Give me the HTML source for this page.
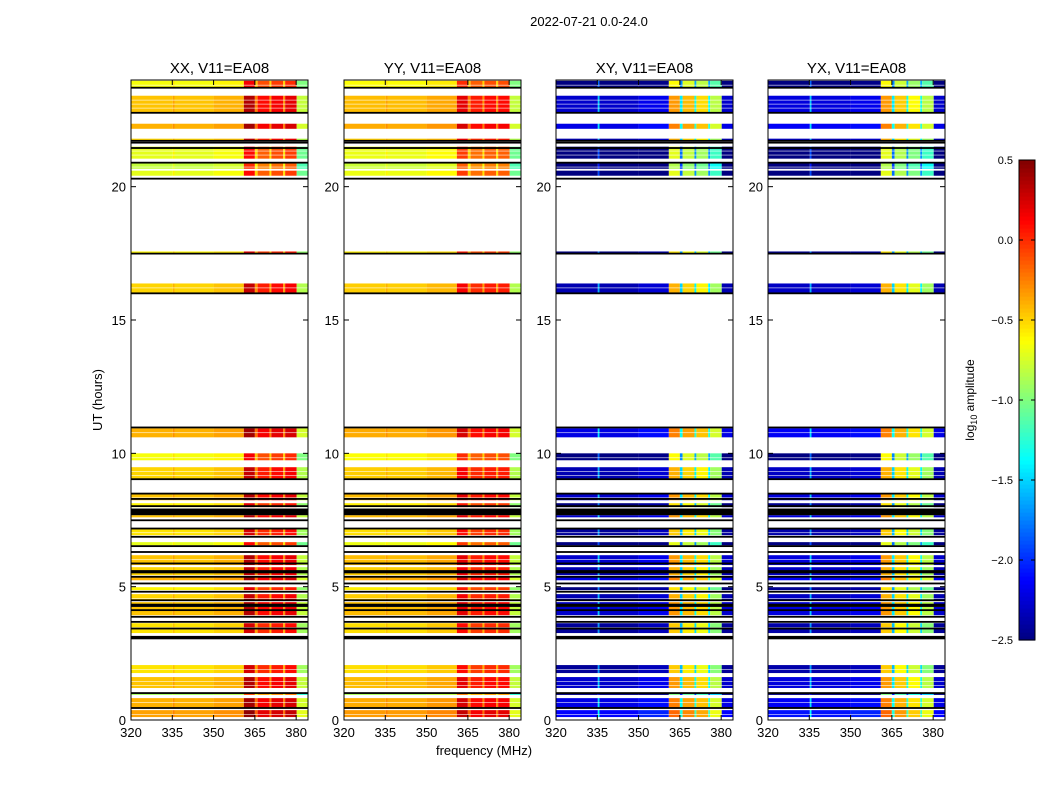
<!DOCTYPE html>
<html><head><meta charset="utf-8"><style>
body{margin:0;background:#fff;width:1050px;height:800px;overflow:hidden;font-family:"Liberation Sans","DejaVu Sans",sans-serif}
svg text{font-family:"Liberation Sans","DejaVu Sans",sans-serif}
</style></head><body>
<svg id="chart" width="1050" height="800" xmlns="http://www.w3.org/2000/svg"></svg>
<script>
const panelTitles=["XX, V11=EA08","YY, V11=EA08","XY, V11=EA08","YX, V11=EA08"];
const bandEdges=[320,335.2,335.8,350,361,365,366,370.3,371,375.3,376,380.2,384.5];
const bandXX=[-0.5,-0.4,-0.5,-0.45,0.3,-0.3,0.05,-0.35,0.1,-0.35,0.15,-0.85];
const bandYY=[-0.48,-0.4,-0.48,-0.42,0.15,-0.3,0.0,-0.35,0.05,-0.35,0.05,-0.85];
const bandXY=[-2.35,-1.6,-2.35,-2.25,-0.4,-1.5,-0.5,-1.4,-0.6,-1.4,-0.9,-2.35];
const bandYX=[-2.3,-1.6,-2.3,-2.25,-0.4,-1.5,-0.55,-1.4,-0.7,-1.4,-0.9,-2.35];
const rowStart=[23.71,22.77,22.17,21.72,21.05,20.67,20.41,17.49,16.0,10.60,9.74,9.03,8.24,7.98,7.60,6.93,6.55,5.81,5.43,5.24,4.87,4.49,3.93,3.26,1.76,1.20,0.94,0.45,0.11];
const rowEnd  =[23.97,23.41,22.36,21.80,21.50,20.90,20.60,17.57,16.37,10.94,10.0,9.48,8.50,8.13,7.68,7.19,6.67,6.18,5.73,5.36,4.98,4.72,4.42,3.63,2.06,1.61,1.01,0.82,0.37];
const rowOffset=[-0.15,0.05,0.1,0.0,-0.2,-0.3,-0.2,-0.1,0.0,0.1,-0.15,0.0,0.05,-0.1,0.05,-0.05,-0.2,0.05,0.0,0.1,-0.1,0.0,0.05,-0.05,-0.05,0.05,-0.4,0.1,0.15];
const blackLines=[23.71,22.77,21.72,21.65,21.45,20.90,20.30,17.49,16.0,10.97,9.03,8.49,8.29,8.02,7.49,7.18,6.87,6.52,6.30,5.87,5.37,5.12,4.81,4.49,4.12,3.87,3.68,3.43,3.12,3.06,1.01,0.45];
const blackBandStart=[7.68,5.50,4.24];
const blackBandEnd=[7.93,5.62,4.36];
const yTicks=[0,5,10,15,20];
const xTicks=[320,335,350,365,380];
const cbTicks=[0.5,0.0,-0.5,-1.0,-1.5,-2.0,-2.5];

const NS="http://www.w3.org/2000/svg";
const svg=document.getElementById('chart');
function mk(tag,attrs,parent){const e=document.createElementNS(NS,tag);for(const k in attrs)e.setAttribute(k,attrs[k]);(parent||svg).appendChild(e);return e;}
function jet(v){v=Math.max(0,Math.min(1,v));
 const r=Math.max(0,Math.min(1,1.5-Math.abs(4*v-3))),g=Math.max(0,Math.min(1,1.5-Math.abs(4*v-2))),b=Math.max(0,Math.min(1,1.5-Math.abs(4*v-1)));
 return `rgb(${Math.round(r*255)},${Math.round(g*255)},${Math.round(b*255)})`;}
const vmin=-2.5,vmax=0.5;
const panelX=[131,344,556,768],panelW=177,plotTop=80,bot=720;
const fmin=320,fmax=384.3,tmin=0,tmax=24;
const bands=[bandXX,bandYY,bandXY,bandYX];

let st=mk('text',{x:589,y:26,'font-size':13,'text-anchor':'middle'});


st.textContent='2022-07-21 0.0-24.0';

panelTitles.forEach((title,p)=>{
 const x0=panelX[p];
 const xs=f=>x0+(f-fmin)/(fmax-fmin)*panelW;
 const ys=h=>bot-(h-tmin)/(tmax-tmin)*(bot-plotTop);
 const g=mk('g',{});
 
 
 const vals=bands[p];
 rowStart.forEach((h0,r)=>{
  const h1=rowEnd[r];
  for(let b=0;b<vals.length;b++){
   const v=vals[b]+rowOffset[r]*(p<2?1:1.5);
   const c=mk('rect',{x:xs(bandEdges[b]),y:ys(h1),width:Math.max(0.5,xs(Math.min(bandEdges[b+1],fmax))-xs(bandEdges[b])),height:Math.max(1,ys(h0)-ys(h1)),fill:jet((v-vmin)/(vmax-vmin))},g);
   
   
  }
  for(let yy=ys(h1)+4;yy<ys(h0)-2;yy+=4){mk('rect',{x:x0,y:yy,width:panelW,height:0.8,fill:'#fff',opacity:0.7},g);}
 });
 blackLines.forEach(h=>{const l=mk('rect',{x:x0,y:ys(h)-0.9,width:panelW,height:1.8,fill:'#000'},g);
  
  });
 blackBandStart.forEach((h0,i)=>{const l=mk('rect',{x:x0,y:ys(blackBandEnd[i]),width:panelW,height:ys(h0)-ys(blackBandEnd[i]),fill:'#000'},g);
  
  });
 const fr=mk('rect',{x:x0,y:plotTop,width:panelW,height:bot-plotTop,fill:'none',stroke:'#000','stroke-width':1},g);
 
 
 const tt=mk('text',{x:x0+panelW/2,y:73,'font-size':15,'text-anchor':'middle'});
 
 
 tt.textContent=title;
 xTicks.forEach(f=>{const x=xs(f);
  mk('line',{x1:x,x2:x,y1:bot,y2:bot-5,stroke:'#000'},g);mk('line',{x1:x,x2:x,y1:plotTop,y2:plotTop+5,stroke:'#000'},g);
  const l=mk('text',{x:x,y:bot+17,'font-size':13,'text-anchor':'middle'});
  
  
  l.textContent=f;});
 yTicks.forEach(h=>{const y=ys(h);
  mk('line',{x1:x0,x2:x0+5,y1:y,y2:y,stroke:'#000'},g);mk('line',{x1:x0+panelW,x2:x0+panelW-5,y1:y,y2:y,stroke:'#000'},g);
  const l=mk('text',{x:x0-5,y:y+5,'font-size':13,'text-anchor':'end'});
  
  
  l.textContent=h;});
});
let yl=mk('text',{x:0,y:0,'font-size':13,'text-anchor':'middle',transform:'translate(102,400) rotate(-90)'});


yl.textContent='UT (hours)';
let xl=mk('text',{x:484,y:755,'font-size':13,'text-anchor':'middle'});


xl.textContent='frequency (MHz)';

const cb=mk('g',{});


const cbx=1019,cbw=16,cbt=160,cbb=640,N=120;
for(let i=0;i<N;i++){mk('rect',{x:cbx,y:cbb-(i+1)*(cbb-cbt)/N,width:cbw,height:(cbb-cbt)/N+0.6,fill:jet((i+0.5)/N)},cb);}
mk('rect',{x:cbx,y:cbt,width:cbw,height:cbb-cbt,fill:'none',stroke:'#000'},cb);
cbTicks.forEach(v=>{const y=cbb-(v-vmin)/(vmax-vmin)*(cbb-cbt);
 mk('line',{x1:cbx,x2:cbx+4,y1:y,y2:y,stroke:'#000'},cb);mk('line',{x1:cbx+cbw,x2:cbx+cbw-4,y1:y,y2:y,stroke:'#000'},cb);
 const l=mk('text',{x:cbx-6,y:y+4,'font-size':11,'text-anchor':'end'});
 
 
 l.textContent=(v<0?'\u2212':'')+Math.abs(v).toFixed(1);});
let cl=mk('text',{x:0,y:0,'font-size':12,'text-anchor':'middle',transform:'translate(974,400) rotate(-90)'});


cl.innerHTML='log<tspan font-size="9" dy="3">10</tspan><tspan dy="-3"> amplitude</tspan>';
</script>
</body></html>
